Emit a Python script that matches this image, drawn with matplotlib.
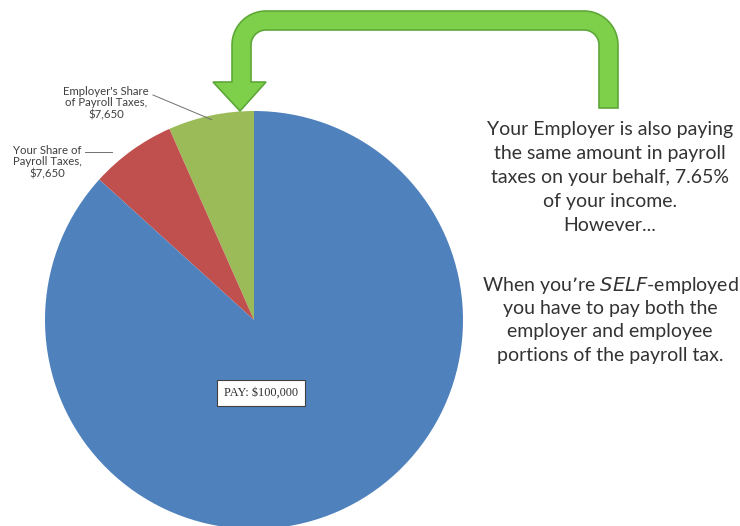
import numpy as np
import matplotlib
matplotlib.use("Agg")
import matplotlib.pyplot as plt
from matplotlib.patches import Polygon

# data
labels = ["Employer's Share\nof Payroll Taxes,\n$7,650",
          "Your Share of\nPayroll Taxes,\n$7,650",
          "PAY: $100,000"]
values = [7650, 7650, 100000]
colors = ["#9BBB59", "#C0504D", "#4F81BD"]

note_top = ["Your Employer is also paying", "the same amount in payroll",
            "taxes on your behalf, 7.65%", "of your income.", "However..."]
note_bottom = ["When you\u2019re $\\it{SELF}$-employed", "you have to pay both the",
               "employer and employee", "portions of the payroll tax."]

W, H = 740, 526
fig = plt.figure(figsize=(W / 100, H / 100), dpi=100)
ax = fig.add_axes([0, 0, 1, 1])


def Y(y):
    # image rows (top down) -> axis coords
    return H - y


cx, cy, r = 254, Y(320), 209
wedges, _ = ax.pie(values, colors=colors, startangle=90, counterclock=True,
                   center=(cx, cy), radius=r, frame=True,
                   wedgeprops=dict(linewidth=0))
ax.set_xlim(0, W)
ax.set_ylim(0, H)
ax.set_aspect("equal")
ax.axis("off")


def edge_point(w, frac=1.0):
    a = np.deg2rad((w.theta1 + w.theta2) / 2)
    return cx + r * frac * np.cos(a), cy + r * frac * np.sin(a)


font = "Lato"
# employer label
ax.text(106, Y(103), labels[0], ha="center", va="center", fontsize=8.2,
        family=font, color="#404040", linespacing=1.1)
ex, ey = edge_point(wedges[0], 0.98)
ax.plot([153, ex], [Y(95), ey], color="#707070", lw=0.7)

# your share label
ax.text(47, Y(162), labels[1], ha="center", va="center", fontsize=8.2,
        family=font, color="#404040", linespacing=1.1)
ax.plot([85, 112], [Y(152), Y(152)], color="#707070", lw=0.7)

# pay label box
ax.text(261, Y(393), labels[2], ha="center", va="center", fontsize=8.8,
        family="Liberation Serif", color="#303030",
        bbox=dict(boxstyle="square,pad=0.55", fc="white", ec="#404040", lw=0.8))

# notes
for i, s in enumerate(note_top):
    ax.text(610, Y(129 + 24.2 * i), s, ha="center", va="center",
            fontsize=14, family=font, color="#333333")
for i, s in enumerate(note_bottom):
    ax.text(610, Y(285 + 23.5 * i), s, ha="center", va="center",
            fontsize=14, family=font, color="#333333")

# green curved arrow
def arc(xc, yc, rad, a0, a1, n=20):
    t = np.deg2rad(np.linspace(a0, a1, n))
    return [(xc + rad * np.cos(t[k]), yc - rad * np.sin(t[k])) for k in range(n)]

Ro, Ri = 34, 15
pts = [(618, 108), (618, 45)]
pts += arc(584, 45, Ro, 0, 90)
pts += [(266, 11)]
pts += arc(266, 45, Ro, 90, 180)
pts += [(232, 82), (213, 82), (240, 111), (266, 82), (251, 82)]
pts += arc(266, 45, Ri, 180, 90)
pts += arc(584, 45, Ri, 90, 0)
pts += [(599, 108)]
pts = [(x, Y(y)) for x, y in pts]
ax.add_patch(Polygon(pts, closed=True, fc="#7ED04B", ec="#5EA838", lw=1.2))

fig.savefig("out.png", dpi=100)
